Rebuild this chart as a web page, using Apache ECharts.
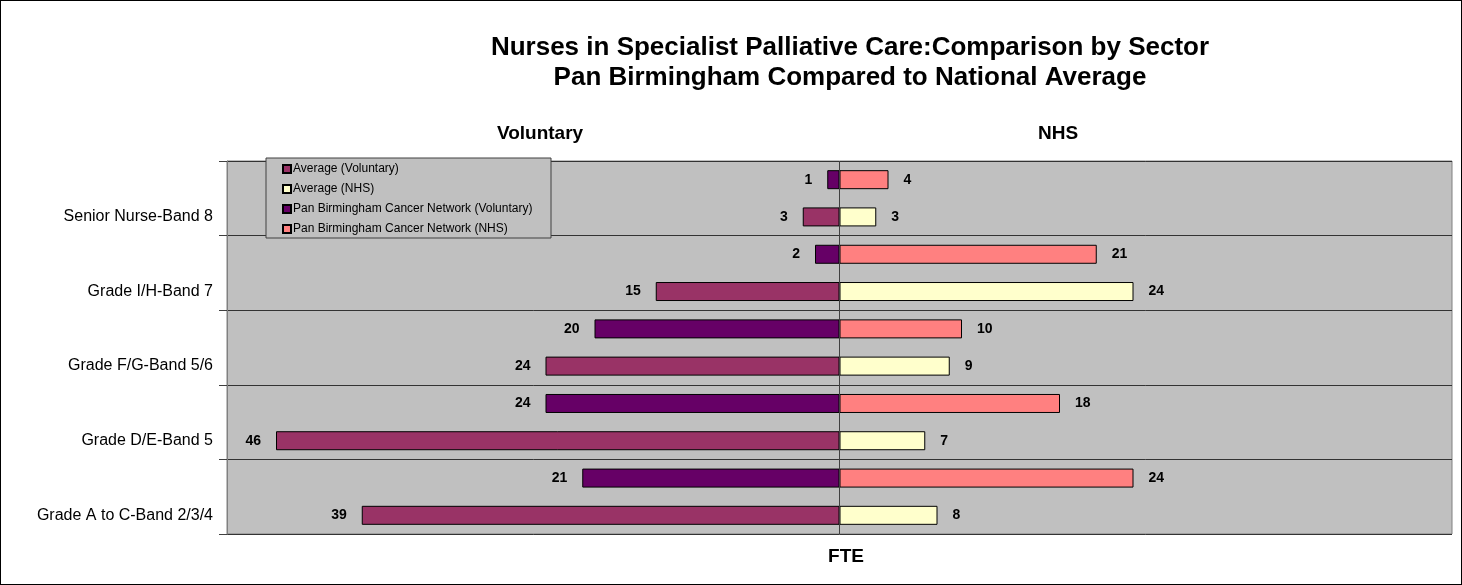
<!DOCTYPE html>
<html lang="en">
<head>
    <meta charset="UTF-8">
    <script src="https://cdn.jsdelivr.net/npm/echarts@6/dist/echarts.min.js"></script>
    <title>Nurses in Specialist Palliative Care</title>
    <style>
        html, body { margin: 0; padding: 0; background: #fff; }
        #main { width: 1460px; height: 583px; border: 1px solid #000; }
    </style>
</head>
<body>
<div id="main"></div>
<script type="text/javascript">
    // grades, top to bottom
    var grades = ['Senior Nurse-Band 8', 'Grade I/H-Band 7', 'Grade F/G-Band 5/6', 'Grade D/E-Band 5', 'Grade A to C-Band 2/3/4'];

    var avgVoluntary = [3, 15, 24, 46, 39];
    var avgNHS = [3, 24, 9, 7, 8];
    var pbVoluntary = [1, 2, 20, 24, 21];
    var pbNHS = [4, 21, 10, 18, 24];

    var font = 'Arial, "Liberation Sans", sans-serif';

    var chart = echarts.init(document.getElementById('main'));

    function neg(arr) {
        return arr.map(function (v) { return -v; });
    }

    var labelLeft = {
        show: true, position: 'left', distance: 15,
        color: '#000', fontWeight: 'bold', fontSize: 14, fontFamily: font,
        formatter: function (p) { return Math.abs(p.value); }
    };
    var labelRight = {
        show: true, position: 'right', distance: 15,
        color: '#000', fontWeight: 'bold', fontSize: 14, fontFamily: font
    };

    var option = {
        animation: false,
        textStyle: { fontFamily: font },
        title: [
            {
                text: 'Nurses in Specialist Palliative Care:Comparison by Sector\nPan Birmingham Compared to National Average',
                left: 844, top: 27, textAlign: 'center',
                textStyle: { fontSize: 26, fontWeight: 'bold', color: '#000', lineHeight: 30, fontFamily: font }
            },
            { text: 'Voluntary', left: 534, top: 118, textAlign: 'center', textStyle: { fontSize: 19, fontWeight: 'bold', color: '#000', fontFamily: font } },
            { text: 'NHS', left: 1052, top: 118, textAlign: 'center', textStyle: { fontSize: 19, fontWeight: 'bold', color: '#000', fontFamily: font } },
            { text: 'FTE', left: 840, top: 541, textAlign: 'center', textStyle: { fontSize: 19, fontWeight: 'bold', color: '#000', fontFamily: font } }
        ],
        graphic: [{
            type: 'rect', z: 3,
            shape: { x: 265, y: 157, width: 285, height: 80 },
            style: { fill: '#C0C0C0', stroke: '#404040', lineWidth: 1 }
        }],
        legend: {
            orient: 'vertical', left: 281, top: 162, z: 5, padding: 0,
            itemWidth: 8, itemHeight: 8, itemGap: 8,
            icon: 'rect',
            textStyle: { fontSize: 12, color: '#000', fontFamily: font, padding: [0, 0, 0, -3] },
            data: ['Average (Voluntary)', 'Average (NHS)', 'Pan Birmingham Cancer Network (Voluntary)', 'Pan Birmingham Cancer Network (NHS)']
        },
        grid: {
            left: 226, right: 9, top: 160, bottom: 50,
            show: true, backgroundColor: '#C0C0C0', borderColor: '#808080', borderWidth: 1
        },
        xAxis: {
            type: 'value', min: -50, max: 50,
            axisLabel: { show: false }, axisTick: { show: false },
            axisLine: { show: false }, splitLine: { show: false }
        },
        yAxis: {
            type: 'category', data: grades, inverse: true,
            axisLine: { onZero: false, lineStyle: { color: '#808080' } },
            axisTick: { show: true, length: 8, lineStyle: { color: '#404040' } },
            axisLabel: {
                fontSize: 16, color: '#000', margin: 14, fontFamily: font, lineHeight: 37,
                // label sits level with the lower (average) bar of each grade
                formatter: function (v) { return '\n' + v; }
            },
            splitLine: { show: true, lineStyle: { color: '#333', width: 1 } }
        },
        series: [
            {
                name: 'Pan Birmingham Cancer Network (Voluntary)', type: 'bar', stack: 'pb',
                data: neg(pbVoluntary), barWidth: 19, barGap: '96%',
                itemStyle: { color: '#660066', borderColor: '#000', borderWidth: 1 },
                label: labelLeft,
                markLine: {
                    silent: true, symbol: 'none', label: { show: false },
                    lineStyle: { color: '#404040', type: 'solid', width: 1 },
                    data: [{ xAxis: 0 }]
                }
            },
            {
                name: 'Pan Birmingham Cancer Network (NHS)', type: 'bar', stack: 'pb',
                data: pbNHS, barWidth: 19, barGap: '96%',
                itemStyle: { color: '#FF8080', borderColor: '#000', borderWidth: 1 },
                label: labelRight
            },
            {
                name: 'Average (Voluntary)', type: 'bar', stack: 'avg',
                data: neg(avgVoluntary), barWidth: 19, barGap: '96%',
                itemStyle: { color: '#993366', borderColor: '#000', borderWidth: 1 },
                label: labelLeft
            },
            {
                name: 'Average (NHS)', type: 'bar', stack: 'avg',
                data: avgNHS, barWidth: 19, barGap: '96%',
                itemStyle: { color: '#FFFFCC', borderColor: '#000', borderWidth: 1 },
                label: labelRight
            }
        ]
    };

    chart.setOption(option);
</script>
</body>
</html>
